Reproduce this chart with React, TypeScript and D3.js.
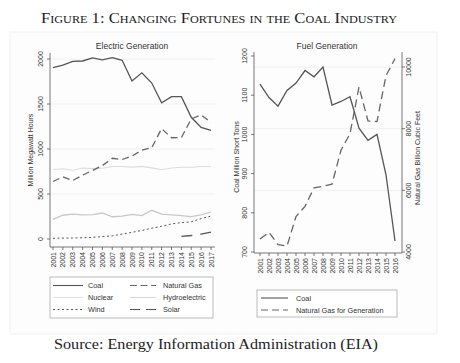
import React from 'react';
import * as d3 from 'd3';

// Electric generation, million MWh, 2001-2017
const elecYears = d3.range(2001, 2018);
const coalGen = [1904, 1933, 1974, 1978, 2013, 1991, 2016, 1986, 1756, 1847, 1733, 1514, 1581, 1582, 1352, 1239, 1206];
const gasGen = [639, 691, 650, 710, 761, 816, 897, 883, 921, 988, 1014, 1226, 1125, 1127, 1335, 1379, 1296];
const nuclearGen = [769, 780, 764, 789, 782, 787, 806, 806, 799, 807, 790, 769, 789, 797, 797, 806, 805];
const hydroGen = [217, 264, 276, 268, 270, 289, 247, 254, 273, 260, 319, 276, 269, 259, 249, 268, 300];
const windGen = [7, 10, 11, 14, 18, 27, 35, 55, 74, 95, 120, 141, 168, 182, 191, 227, 254];
const solarYears = [2014, 2015, 2016, 2017];
const solarGen = [29, 39, 55, 77];

// Fuel use, 2001-2016
const fuelYears = d3.range(2001, 2017);
const coalTons = [1128, 1094, 1072, 1112, 1131, 1163, 1147, 1172, 1075, 1084, 1096, 1016, 985, 1000, 897, 728];
const gasCubicFeet = [4420, 4640, 4240, 4190, 5150, 5480, 6080, 6130, 6200, 7300, 7840, 9350, 8250, 8230, 9720, 10270];

const elecTicks = [0, 500, 1000, 1500, 2000];
const coalTicks = [700, 800, 900, 1000, 1100, 1200];
const gasTicks = [4000, 6000, 8000, 10000];

const SANS = '"Liberation Sans", Arial, sans-serif';
const SERIF = '"Liberation Serif", "Times New Roman", serif';

type Pt = [number, number];

function App() {
  // left panel scales
  const xL = d3.scaleLinear().domain([2001, 2017]).range([53, 211]);
  const yL = d3.scaleLinear().domain([0, 2000]).range([239, 59]);
  // right panel scales
  const xR = d3.scaleLinear().domain([2001, 2016]).range([260, 395]);
  const yCoal = d3.scaleLinear().domain([700, 1200]).range([252, 56]);
  const yGas = d3.scaleLinear().domain([4000, 10000]).range([252, 67]);

  const lineL = d3.line<Pt>().x(d => xL(d[0])).y(d => yL(d[1]));
  const lineCoal = d3.line<Pt>().x(d => xR(d[0])).y(d => yCoal(d[1]));
  const lineGas = d3.line<Pt>().x(d => xR(d[0])).y(d => yGas(d[1]));

  const pairs = (xs: number[], ys: number[]): Pt[] => xs.map((x, i) => [x, ys[i]] as Pt);

  const elecSeries = [
    { name: 'Hydroelectric', data: hydroGen, stroke: '#c8c8c8', width: 1.3, dash: '' },
    { name: 'Nuclear', data: nuclearGen, stroke: '#dcdcdc', width: 1.1, dash: '' },
    { name: 'Wind', data: windGen, stroke: '#555', width: 1, dash: '2,2.5' },
    { name: 'Natural Gas', data: gasGen, stroke: '#666', width: 1.3, dash: '7,4' },
    { name: 'Coal', data: coalGen, stroke: '#555', width: 1.3, dash: '' },
  ];

  const leftLegend = [
    { label: 'Coal', stroke: '#555', dash: '', col: 0, row: 0 },
    { label: 'Natural Gas', stroke: '#666', dash: '7,3.5', col: 1, row: 0 },
    { label: 'Nuclear', stroke: '#e2e2e2', dash: '', col: 0, row: 1 },
    { label: 'Hydroelectric', stroke: '#d6d6d6', dash: '', col: 1, row: 1 },
    { label: 'Wind', stroke: '#555', dash: '2,2.5', col: 0, row: 2 },
    { label: 'Solar', stroke: '#555', dash: '10,6', col: 1, row: 2 },
  ];

  const rightLegend = [
    { label: 'Coal', stroke: '#555', dash: '' },
    { label: 'Natural Gas for Generation', stroke: '#666', dash: '7,4' },
  ];

  const tickFont = { fontFamily: SANS, fontSize: 7, fill: '#333' };

  return (
    <svg width={460} height={363} style={{ position: 'absolute', left: 0, top: 0, background: '#fff' }}>
      <text x={219} y={23} textAnchor="middle" fontFamily={SERIF} fontSize={15}
        style={{ fontVariant: 'small-caps' }} fill="#222" textLength={356} lengthAdjust="spacingAndGlyphs">
        Figure 1: Changing Fortunes in the Coal Industry
      </text>

      <rect x={10} y={32} width={427} height={302} fill="#fdfdfd" stroke="#f1f1f1" />

      {/* ---------- Electric Generation ---------- */}
      <text x={132} y={49} textAnchor="middle" fontFamily={SANS} fontSize={8.5} fill="#333">Electric Generation</text>
      {elecTicks.filter(t => t > 0).map(t => (
        <line key={t} x1={50} x2={215} y1={yL(t)} y2={yL(t)} stroke="#ececec" strokeWidth={0.8} />
      ))}
      <line x1={50} x2={50} y1={53} y2={247} stroke="#555" strokeWidth={0.8} />
      <line x1={50} x2={215} y1={247} y2={247} stroke="#555" strokeWidth={0.8} />
      {elecTicks.map(t => (
        <g key={t}>
          <line x1={47} x2={50} y1={yL(t)} y2={yL(t)} stroke="#555" strokeWidth={0.8} />
          <text transform={`translate(43,${yL(t)}) rotate(-90)`} textAnchor="middle" {...tickFont}>{t}</text>
        </g>
      ))}
      {elecYears.map(yr => (
        <g key={yr}>
          <line x1={xL(yr)} x2={xL(yr)} y1={247} y2={250} stroke="#555" strokeWidth={0.8} />
          <text transform={`translate(${xL(yr) + 2.5},252) rotate(-90)`} textAnchor="end" {...tickFont}>{yr}</text>
        </g>
      ))}
      <text transform="translate(33,150) rotate(-90)" textAnchor="middle" fontFamily={SANS} fontSize={7} fill="#333">
        Million Megawatt Hours
      </text>
      {elecSeries.map(s => (
        <path key={s.name} d={lineL(pairs(elecYears, s.data)) || ''} fill="none" stroke={s.stroke}
          strokeWidth={s.width} strokeDasharray={s.dash || undefined} />
      ))}
      <path d={lineL(pairs(solarYears, solarGen)) || ''} fill="none" stroke="#555" strokeWidth={1.3} strokeDasharray="11,8" />

      {/* left legend */}
      <rect x={50} y={277} width={163} height={41} fill="#fff" stroke="#aaa" strokeWidth={0.8} />
      {leftLegend.map(l => {
        const y = 285.5 + l.row * 12;
        const x0 = l.col === 0 ? 53 : 130;
        return (
          <g key={l.label}>
            <line x1={x0} x2={x0 + (l.col === 0 ? 30 : 26)} y1={y} y2={y} stroke={l.stroke} strokeWidth={1.1} strokeDasharray={l.dash || undefined} />
            <text x={l.col === 0 ? 88 : 163} y={y + 2.6} fontFamily={SANS} fontSize={7.3} fill="#333">{l.label}</text>
          </g>
        );
      })}

      {/* ---------- Fuel Generation ---------- */}
      <text x={327} y={49} textAnchor="middle" fontFamily={SANS} fontSize={8.5} fill="#333">Fuel Generation</text>
      {gasTicks.filter(t => t > 4000).map(t => (
        <line key={t} x1={254} x2={402} y1={yGas(t)} y2={yGas(t)} stroke="#ececec" strokeWidth={0.8} />
      ))}
      <line x1={254} x2={254} y1={52} y2={253} stroke="#555" strokeWidth={0.8} />
      <line x1={402} x2={402} y1={52} y2={253} stroke="#555" strokeWidth={0.8} />
      <line x1={254} x2={402} y1={253} y2={253} stroke="#555" strokeWidth={0.8} />
      {coalTicks.map(t => (
        <g key={t}>
          <line x1={251} x2={254} y1={yCoal(t)} y2={yCoal(t)} stroke="#555" strokeWidth={0.8} />
          <text transform={`translate(247,${yCoal(t)}) rotate(-90)`} textAnchor="middle" {...tickFont}>{t}</text>
        </g>
      ))}
      {gasTicks.map(t => (
        <g key={t}>
          <line x1={402} x2={405} y1={yGas(t)} y2={yGas(t)} stroke="#555" strokeWidth={0.8} />
          <text transform={`translate(411,${yGas(t)}) rotate(-90)`} textAnchor="middle" {...tickFont}>{t}</text>
        </g>
      ))}
      {fuelYears.map(yr => (
        <g key={yr}>
          <line x1={xR(yr)} x2={xR(yr)} y1={253} y2={256} stroke="#555" strokeWidth={0.8} />
          <text transform={`translate(${xR(yr) + 2.5},258) rotate(-90)`} textAnchor="end" {...tickFont}>{yr}</text>
        </g>
      ))}
      <text transform="translate(239,157) rotate(-90)" textAnchor="middle" fontFamily={SANS} fontSize={7} fill="#333">
        Coal Million Short Tons
      </text>
      <text transform="translate(420,158) rotate(-90)" textAnchor="middle" fontFamily={SANS} fontSize={7} fill="#333">
        Natural Gas Billion Cubic Feet
      </text>
      <path d={lineGas(pairs(fuelYears, gasCubicFeet)) || ''} fill="none" stroke="#666" strokeWidth={1.3} strokeDasharray="8,4.5" />
      <path d={lineCoal(pairs(fuelYears, coalTons)) || ''} fill="none" stroke="#555" strokeWidth={1.3} />

      {/* right legend */}
      <rect x={257} y={290} width={140} height={27} fill="#fff" stroke="#aaa" strokeWidth={0.8} />
      {rightLegend.map((l, i) => {
        const y = 298 + i * 12;
        return (
          <g key={l.label}>
            <line x1={261} x2={288} y1={y} y2={y} stroke={l.stroke} strokeWidth={1.1} strokeDasharray={l.dash || undefined} />
            <text x={296} y={y + 2.6} fontFamily={SANS} fontSize={7.3} fill="#333">{l.label}</text>
          </g>
        );
      })}

      <text x={54} y={349} fontFamily={SERIF} fontSize={15} fill="#222" textLength={324} lengthAdjust="spacingAndGlyphs">
        Source: Energy Information Administration (EIA)
      </text>
    </svg>
  );
}

export default App;
